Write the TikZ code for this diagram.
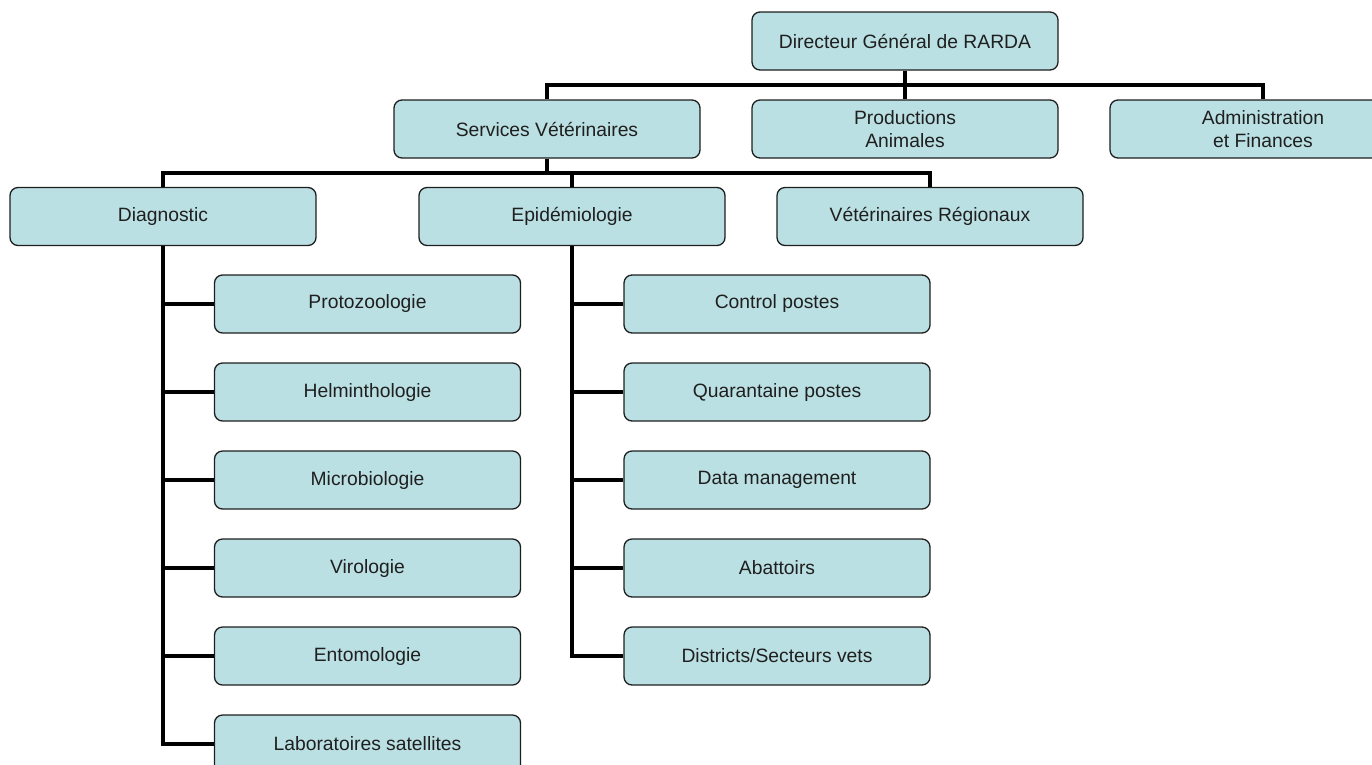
\documentclass[tikz,border=0pt]{standalone}
\usepackage{fontspec}
\setmainfont{Liberation Sans}
\definecolor{boxfill}{HTML}{BBE0E3}
\definecolor{boxline}{HTML}{1E1E1E}
\begin{document}
\begin{tikzpicture}[x=1pt,y=-1pt,
  org/.style={draw=boxline, line width=1.3pt, fill=boxfill, rounded corners=8pt,
    minimum width=306pt, minimum height=58pt, inner sep=0pt, align=center,
    font=\fontsize{19.3}{23}\selectfont, text=black!88},
  link/.style={line width=4pt, black}]
\useasboundingbox (0,0) rectangle (1372,764);
% level 0
\node[org] (top) at (905,41) {Directeur Général de RARDA};
% level 1
\node[org] (sv) at (547,129) {Services Vétérinaires};
\node[org] (pa) at (905,129) {Productions\\Animales};
\node[org] (af) at (1263,129) {Administration\\et Finances};
% level 2
\node[org] (diag) at (163,216.5) {Diagnostic};
\node[org] (epi) at (572,216.5) {Epidémiologie};
\node[org] (vr) at (930,216.5) {Vétérinaires Régionaux};
% diagnostic children
\node[org] (d1) at (367.5,304) {Protozoologie};
\node[org] (d2) at (367.5,392) {Helminthologie};
\node[org] (d3) at (367.5,480) {Microbiologie};
\node[org] (d4) at (367.5,568) {Virologie};
\node[org] (d5) at (367.5,656) {Entomologie};
\node[org] (d6) at (367.5,744) {Laboratoires satellites};
% epidemiologie children
\node[org] (e1) at (777,304) {Control postes};
\node[org] (e2) at (777,392) {Quarantaine postes};
\node[org] (e3) at (777,480) {Data management};
\node[org] (e4) at (777,568) {Abattoirs};
\node[org] (e5) at (777,656) {Districts/Secteurs vets};
% bars
\coordinate (b1) at (0,85);
\coordinate (b2) at (0,173);
\draw[link] (top.south) -- (top.south |- b1);
\draw[link] (sv.north) -- (sv.north |- b1) -- (af.north |- b1) -- (af.north);
\draw[link] (pa.north |- b1) -- (pa.north);
\draw[link] (sv.south) -- (sv.south |- b2);
\draw[link] (diag.north) -- (diag.north |- b2) -- (vr.north |- b2) -- (vr.north);
\draw[link] (epi.north |- b2) -- (epi.north);
% diagnostic spine
\draw[link] (diag.south) |- (d6.west);
\foreach \c in {d1,d2,d3,d4,d5} \draw[link] (diag.south |- \c.west) -- (\c.west);
% epidemiologie spine
\draw[link] (epi.south) |- (e5.west);
\foreach \c in {e1,e2,e3,e4} \draw[link] (epi.south |- \c.west) -- (\c.west);
\end{tikzpicture}
\end{document}
